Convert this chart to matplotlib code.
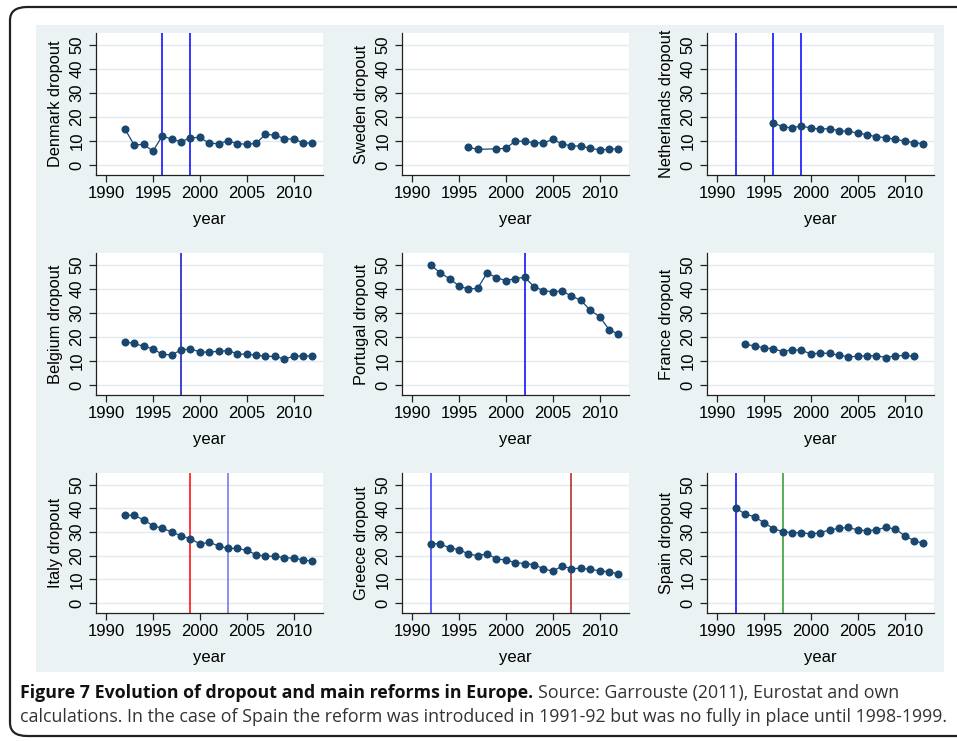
#! /usr/bin/env python3

import numpy as np
import matplotlib
matplotlib.use("Agg")
import matplotlib.pyplot as plt
from matplotlib import font_manager
from matplotlib.patches import FancyBboxPatch, Rectangle

# dropout rates
years = list(range(1992, 2013))

denmark = [15.1, 8.3, 8.6, 5.7, 12.1, 10.7, 9.7, 11.3, 11.5, 9.0, 8.9,
           10.0, 8.9, 8.6, 9.0, 12.8, 12.4, 11.0, 10.7, 9.3, 9.0]
sweden_years = [1996, 1997, 1999, 2000, 2001, 2002, 2003, 2004, 2005,
                2006, 2007, 2008, 2009, 2010, 2011, 2012]
sweden = [7.4, 6.5, 6.7, 6.9, 9.9, 9.9, 9.2, 9.2, 10.6, 8.8, 7.9, 7.9,
          6.9, 6.3, 6.5, 6.8]
netherlands_years = list(range(1996, 2013))
netherlands = [17.4, 16.0, 15.4, 16.3, 15.3, 15.0, 15.1, 14.3, 14.0, 13.3,
               12.6, 11.7, 11.4, 10.6, 10.0, 9.2, 8.9]
belgium = [18.0, 17.3, 16.1, 15.1, 12.7, 12.6, 14.5, 15.1, 13.7, 13.7, 14.0,
           14.3, 13.0, 12.7, 12.5, 11.9, 11.9, 10.8, 11.9, 12.2, 12.0]
portugal = [50.0, 46.7, 44.3, 41.3, 39.9, 40.3, 46.7, 44.7, 43.5, 44.3, 44.9,
            41.0, 39.3, 38.8, 39.2, 37.0, 35.3, 31.1, 28.5, 23.1, 21.2]
france_years = list(range(1993, 2012))
france = [16.9, 16.3, 15.4, 15.1, 13.9, 14.7, 14.4, 13.0, 13.2, 13.2, 12.3,
          11.8, 11.9, 12.2, 12.2, 11.4, 12.1, 12.3, 11.9]
italy = [37.2, 37.1, 35.2, 32.7, 31.6, 30.1, 28.4, 27.2, 25.0, 25.7, 24.2,
         23.1, 23.1, 22.3, 20.5, 19.8, 19.8, 19.2, 19.0, 18.3, 17.7]
greece = [25.1, 25.1, 23.3, 22.6, 20.8, 20.0, 20.8, 18.7, 18.2, 17.1, 16.7,
          16.3, 14.5, 13.5, 15.6, 14.6, 14.7, 14.3, 13.6, 13.2, 12.3]
spain = [40.2, 37.6, 36.5, 34.0, 31.5, 30.2, 29.8, 29.8, 29.2, 29.8, 30.9,
         31.6, 32.0, 30.9, 30.6, 31.0, 32.0, 31.3, 28.5, 26.4, 25.2]

# reform years (vertical lines) and their colours
reforms = {
    "Denmark": [(1996, "#0000ff"), (1999, "#0000ff")],
    "Sweden": [],
    "Netherlands": [(1992, "#0000ff"), (1996, "#0000ff"), (1999, "#0000ff")],
    "Belgium": [(1998, "#1010c0")],
    "Portugal": [(2002, "#0000ff")],
    "France": [],
    "Italy": [(1999, "#ff0000"), (2003, "#6f6ff0")],
    "Greece": [(1992, "#3030ff"), (2007, "#b02020")],
    "Spain": [(1992, "#0000ff"), (1997, "#2a9a2a")],
}

panels = [
    ("Denmark", years, denmark),
    ("Sweden", sweden_years, sweden),
    ("Netherlands", netherlands_years, netherlands),
    ("Belgium", years, belgium),
    ("Portugal", years, portugal),
    ("France", france_years, france),
    ("Italy", years, italy),
    ("Greece", years, greece),
    ("Spain", years, spain),
]

W, H = 957, 741
navy = "#1a476f"
region_col = "#eaf2f3"
grid_col = "#e2eaed"

available = {f.name for f in font_manager.fontManager.ttflist}
axis_font = "Liberation Sans" if "Liberation Sans" in available else "DejaVu Sans"
cap_font = "Liberation Sans Narrow" if "Liberation Sans Narrow" in available else "Open Sans"
plt.rcParams["font.family"] = axis_font

fig = plt.figure(figsize=(W / 100, H / 100), dpi=100)
fig.patch.set_facecolor("white")

# rounded outer frame and bluish graph region
frame = FancyBboxPatch((10 / W, 1 - 736 / H), 980 / W, 729 / H,
                       boxstyle="round,pad=0,rounding_size=0.018",
                       transform=fig.transFigure, fill=False,
                       edgecolor="#222222", lw=1.6, zorder=-2)
fig.patches.append(frame)
fig.patches.append(Rectangle((36 / W, 1 - 672 / H), 908 / W, 647 / H,
                             transform=fig.transFigure, facecolor=region_col,
                             edgecolor="none", zorder=-2))

col_left = [95.7, 401.7, 706.7]
row_top = [33, 253, 473]
row_h = [142, 142, 140]
ax_w = 227

for i, (name, xs, ys) in enumerate(panels):
    r, c = divmod(i, 3)
    left = col_left[c] / W
    bottom = 1 - (row_top[r] + row_h[r]) / H
    ax = fig.add_axes([left, bottom, ax_w / W, row_h[r] / H])
    ax.set_facecolor("white")
    for yv in [0, 10, 20, 30, 40, 50]:
        ax.axhline(yv, color=grid_col, lw=1, zorder=1)
    for yr, col in reforms[name]:
        ax.axvline(yr, color=col, lw=1.1, zorder=2)
    ax.plot(xs, ys, color=navy, lw=0.9, marker="o", markersize=5.8,
            markeredgewidth=0, zorder=3)
    ax.set_xlim(1988.9, 2013.1)
    ax.set_ylim(-4.2, 55)
    ax.set_xticks([1990, 1995, 2000, 2005, 2010])
    ax.set_yticks([0, 10, 20, 30, 40, 50])
    for s in ["top", "right"]:
        ax.spines[s].set_visible(False)
    for s in ["left", "bottom"]:
        ax.spines[s].set_color("#222222")
        ax.spines[s].set_linewidth(0.9)
    ax.tick_params(axis="both", length=5, width=0.9, color="#222222",
                   labelsize=12, pad=3)
    for lab in ax.get_yticklabels():
        lab.set_rotation(90)
        lab.set_va("center")
    ax.set_xlabel("year", fontsize=12, labelpad=8)
    ax.set_ylabel(f"{name} dropout", fontsize=11.8, labelpad=5)

# caption
renderer = fig.canvas.get_renderer()
cap_size = 12.8
bold = fig.text(20 / W, 1 - 698 / H, "Figure 7 Evolution of dropout and main reforms in Europe.",
                fontsize=cap_size, fontweight="bold", family=cap_font, color="#111111",
                va="baseline")
bb = bold.get_window_extent(renderer)
fig.text((bb.x1 + 5) / W, 1 - 698 / H,
         "Source: Garrouste (2011), Eurostat and own",
         fontsize=cap_size, family=cap_font, color="#333333", va="baseline")
fig.text(20 / W, 1 - 722 / H,
         "calculations. In the case of Spain the reform was introduced in 1991-92 "
         "but was no fully in place until 1998-1999.",
         fontsize=cap_size, family=cap_font, color="#333333", va="baseline")

fig.savefig("out.png", dpi=100, facecolor="white")
